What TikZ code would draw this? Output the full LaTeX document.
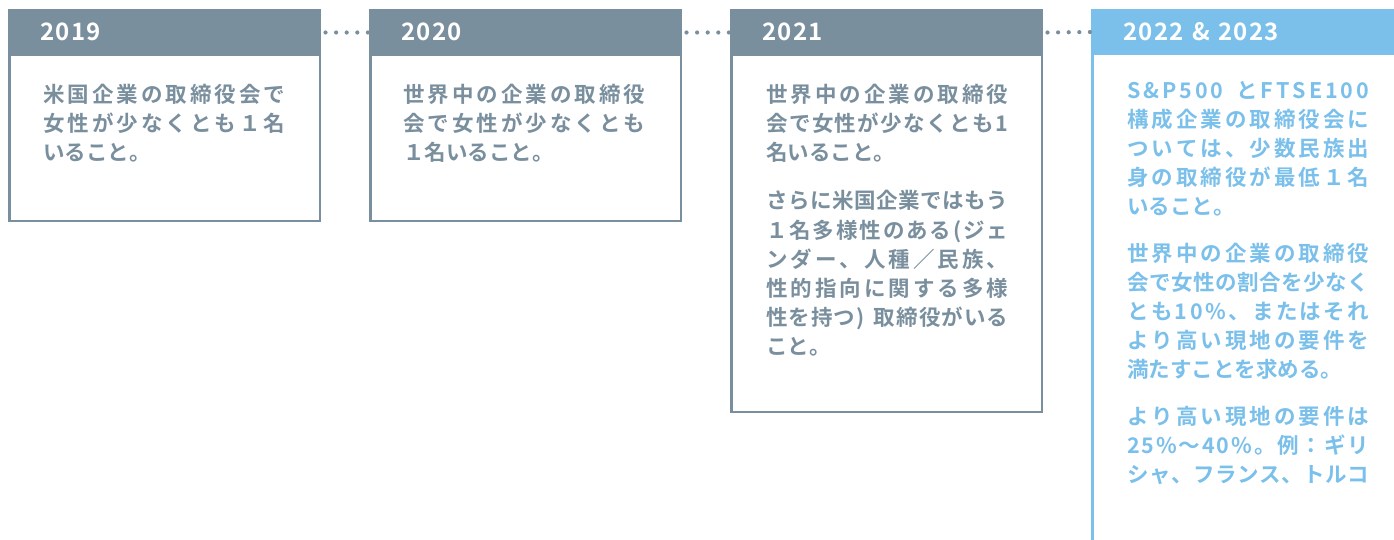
\documentclass[tikz,border=0pt]{standalone}
\usepackage{fontspec}
\newfontfamily\jp{Noto Sans CJK JP}[BoldFont={Noto Sans CJK JP Bold}]
\definecolor{gc}{HTML}{7A8F9E}
\definecolor{bc}{HTML}{7BC0EA}
\newdimen\linew \linew=242pt
\def\jlend{\jlend}
\newcommand\jl[1]{\leavevmode\hbox to \linew{\jlaux#1\jlend}}
\def\jlaux#1{\ifx#1\jlend\else#1\expandafter\jlnext\fi}
\def\jlnext#1{\ifx#1\jlend\else\hfil#1\expandafter\jlnext\fi}
\newcommand\nl[1]{\leavevmode\hbox{#1}}
\newcommand\yrs[1]{\yrsaux#1\jlend}
\def\yrsaux#1{\ifx#1\jlend\else#1\kern1.4pt\expandafter\yrsaux\fi}
\begin{document}
\begin{tikzpicture}[x=1pt,y=-1pt,
 hdr/.style={anchor=north west, inner sep=0pt, outer sep=0pt, minimum height=47pt, minimum width=313pt},
 body/.style={draw, line width=2.5pt, anchor=north west, inner sep=0pt, outer sep=0pt, minimum width=310.5pt},
 yr/.style={anchor=base west, inner sep=0pt, text=white, font=\jp\bfseries\fontsize{24}{24}\selectfont},
 txt/.style={anchor=base west, inner sep=0pt, align=left, text width=242pt, font=\jp\bfseries\fontsize{21.5}{29.2}\selectfont},
 dots/.style={draw=gc, line width=4.2pt, line cap=round, dash pattern=on 0pt off 10.6pt}]
\useasboundingbox (0,0) rectangle (1394,540);
% bodies
\node[body, draw=gc, minimum height=165.75pt] (b1) at (9.25,55) {};
\node[body, draw=gc, minimum height=165.75pt] (b2) at (370.25,55) {};
\node[body, draw=gc, minimum height=356.75pt] (b3) at (731.25,55) {};
% headers
\node[hdr, fill=gc] (h1) at (8,9) {};
\node[hdr, fill=gc] (h2) at (369,9) {};
\node[hdr, fill=gc] (h3) at (730,9) {};
\node[hdr, fill=bc, minimum height=46pt] (h4) at (1091,9) {};
\draw[bc, line width=3pt] ([xshift=1.5pt]h4.south west) -- ++(0,500);
% dotted connectors
\draw[dots] ([xshift=4.5pt]h1.east) -- ([xshift=-0.5pt]h2.west);
\draw[dots] ([xshift=4.5pt]h2.east) -- ([xshift=-0.5pt]h3.west);
\draw[dots] ([xshift=4.5pt]h3.east) -- ([xshift=-0.5pt]h4.west);
% years
\node[yr] (y1) at (40,40.6) {\yrs{2019}};
\node[yr] (y2) at (401,40.6) {\yrs{2020}};
\node[yr] (y3) at (762,40.6) {\yrs{2021}};
\node[yr] (y4) at (1123,40.6) {\yrs{2022\ \&\ 2023}};
% texts
\node[txt, text=gc] (t1) at (43,102.3) {\jl{米国企業の取締役会で}\\\jl{女性が少なくとも１名}\\\nl{いること。}};
\node[txt, text=gc] (t2) at (403,102.3) {\jl{世界中の企業の取締役}\\\jl{会で女性が少なくとも}\\\nl{１名いること。}};
\node[txt, text=gc] (t3) at (766,102.3) {\jl{世界中の企業の取締役}\\\jl{会で女性が少なくとも1}\\\nl{名いること。}\\[19pt]\jl{さらに米国企業ではもう}\\\jl{１名多様性のある(ジェ}\\\jl{ンダー、人種／民族、}\\\jl{性的指向に関する多様}\\\jl{性を持つ)\ 取締役がいる}\\\nl{こと。}};
\node[txt, text=bc, font=\jp\bfseries\fontsize{21.5}{28.8}\selectfont] (t4) at (1127,99) {\jl{S\&P500\ とFTSE100}\\\jl{構成企業の取締役会に}\\\jl{ついては、少数民族出}\\\jl{身の取締役が最低１名}\\\nl{いること。}\\[19pt]\jl{世界中の企業の取締役}\\\jl{会で女性の割合を少なく}\\\jl{とも10\%、またはそれ}\\\jl{より高い現地の要件を}\\\nl{満たすことを求める。}\\[19pt]\jl{より高い現地の要件は}\\\jl{25\%～40\%。例：ギリ}\\\jl{シャ、フランス、トルコ}};
\end{tikzpicture}
\end{document}
